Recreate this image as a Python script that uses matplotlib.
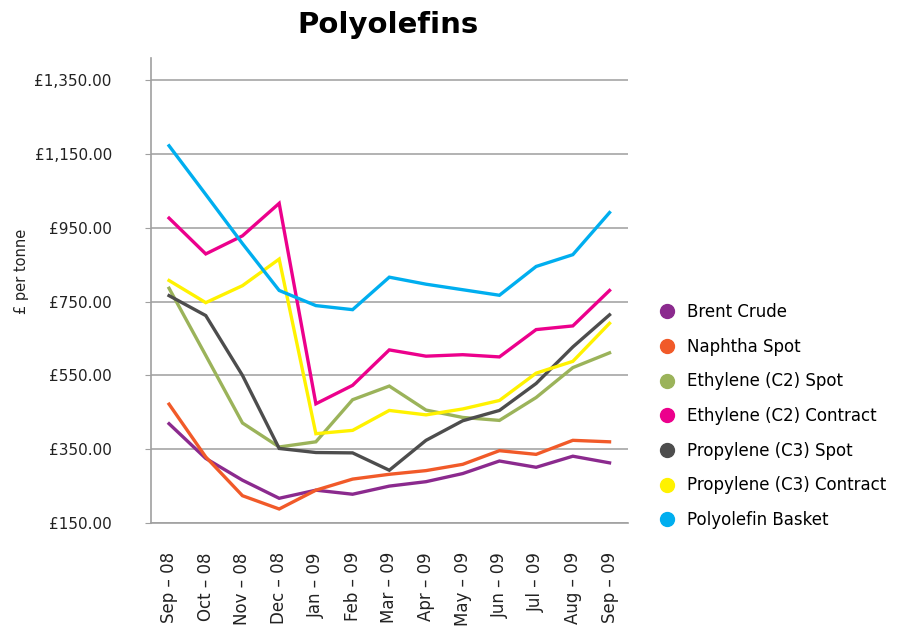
import numpy as np
import matplotlib.pyplot as plt
from matplotlib.lines import Line2D

# DATA
months = ['Sep – 08', 'Oct – 08', 'Nov – 08', 'Dec – 08', 'Jan – 09', 'Feb – 09', 'Mar – 09',
          'Apr – 09', 'May – 09', 'Jun – 09', 'Jul – 09', 'Aug – 09', 'Sep – 09']
brent_crude = [419, 325, 266, 217, 239, 228, 250, 262, 284, 318, 301, 331, 313]
naphtha_spot = [472, 329, 224, 188, 239, 269, 282, 292, 309, 346, 336, 374, 370]
ethylene_spot = [786, 604, 421, 356, 370, 484, 521, 456, 436, 428, 490, 571, 611]
ethylene_contract = [976, 879, 928, 1016, 473, 523, 619, 602, 606, 600, 674, 684, 780]
propylene_spot = [766, 712, 550, 352, 341, 340, 293, 374, 427, 455, 528, 627, 714]
propylene_contract = [807, 747, 793, 865, 392, 401, 455, 443, 459, 482, 556, 588, 691]
polyolefin_basket = [1172, 1040, 907, 780, 739, 728, 816, 797, 782, 767, 845, 877, 991]

series = [
    ('Brent Crude', brent_crude, '#8b2a8e'),
    ('Naphtha Spot', naphtha_spot, '#f15a29'),
    ('Ethylene (C2) Spot', ethylene_spot, '#9bb35a'),
    ('Ethylene (C2) Contract', ethylene_contract, '#ec008c'),
    ('Propylene (C3) Spot', propylene_spot, '#4d4d4d'),
    ('Propylene (C3) Contract', propylene_contract, '#fff200'),
    ('Polyolefin Basket', polyolefin_basket, '#00aeef'),
]
yticks = [150, 350, 550, 750, 950, 1150, 1350]

plt.rcParams['font.family'] = ['DejaVu Sans']

fig = plt.figure(figsize=(8.97, 6.26), dpi=100)
ax = fig.add_axes([0.168, 0.1645, 0.532, 0.743])

x = np.arange(len(months))
for name, vals, col in series:
    ax.plot(x, vals, color=col, lw=2.4, solid_joinstyle='miter', zorder=3)

ax.set_xlim(-0.5, len(months) - 0.5)
ax.set_ylim(150, 1410)
ax.set_yticks(yticks)
ax.set_yticklabels(['£{:,.2f}'.format(v) for v in yticks], fontsize=11, color='#222222')
ax.set_xticks(x)
ax.set_xticklabels(months, rotation=90, fontsize=12, color='#222222')
ax.tick_params(axis='x', length=0, pad=21)
ax.tick_params(axis='y', length=4, color='#a0a0a0', pad=24)
ax.grid(axis='y', color='#a6a6a6', lw=1.2, zorder=1)
for s in ['top', 'right']:
    ax.spines[s].set_visible(False)
for s in ['left', 'bottom']:
    ax.spines[s].set_color('#a0a0a0')
    ax.spines[s].set_linewidth(1.2)

fig.text(388 / 897, 1 - 25 / 626, 'Polyolefins', ha='center', va='center',
         fontsize=21, fontweight='bold')
fig.text(22 / 897, 1 - 271 / 626, '£ per tonne', rotation=90, ha='center', va='center',
         fontsize=10.5, color='#222222')

handles = [Line2D([], [], marker='o', ls='none', color=col, markersize=10) for _, _, col in series]
labels = [name for name, _, _ in series]
fig.legend(handles, labels, loc='center left', bbox_to_anchor=(642 / 897, 1 - 416 / 626),
           frameon=False, fontsize=12, labelspacing=1.0, handletextpad=0.6, handlelength=1.2)

fig.savefig('out.png', dpi=100)
